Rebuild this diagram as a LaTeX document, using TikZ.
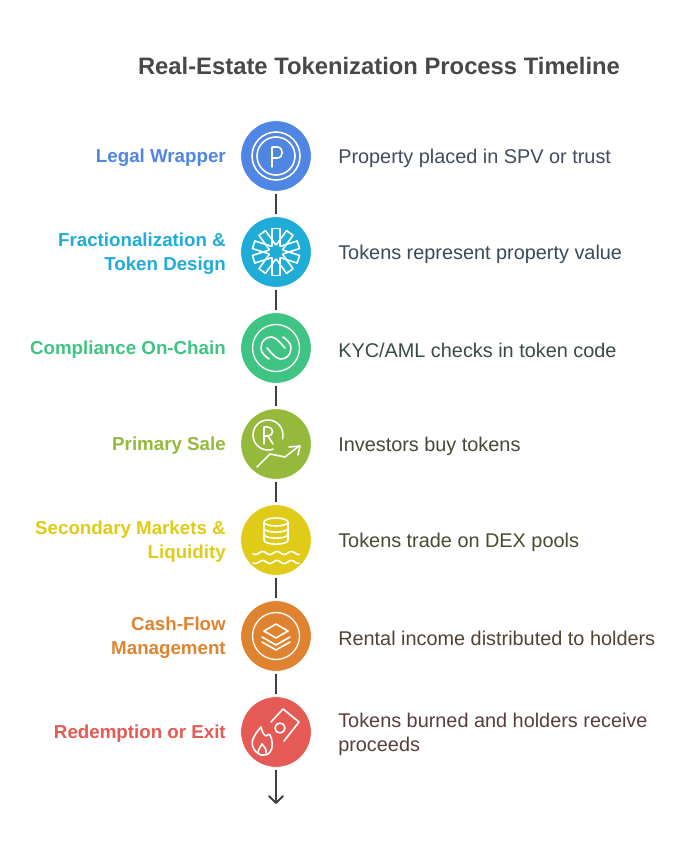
\documentclass[tikz,border=0pt]{standalone}
\usepackage{fontspec}
\setmainfont{Liberation Sans}
\definecolor{cA}{HTML}{4F86E3}\definecolor{cB}{HTML}{1FADD8}\definecolor{cC}{HTML}{3FC483}
\definecolor{cD}{HTML}{95B93A}\definecolor{cE}{HTML}{DFCB18}\definecolor{cF}{HTML}{E08330}\definecolor{cG}{HTML}{E55A55}
\definecolor{tA}{HTML}{434C5C}\definecolor{tB}{HTML}{3A4B55}\definecolor{tC}{HTML}{3B4A47}
\definecolor{tD}{HTML}{444A3A}\definecolor{tE}{HTML}{4A4A32}\definecolor{tF}{HTML}{4F4436}\definecolor{tG}{HTML}{553F3E}
\definecolor{linec}{HTML}{3F3F3F}\definecolor{titlec}{HTML}{484848}
\tikzset{
  x=0.75pt,y=-0.75pt,
  disc/.style={circle,draw=white,line width=0.4pt,minimum size=52.8pt,inner sep=0pt,fill=#1},
  lab/.style={anchor=east,align=right,font=\fontsize{14.05pt}{18pt}\selectfont\bfseries,text=#1,inner sep=0pt},
  desc/.style={anchor=west,align=left,font=\fontsize{14.9pt}{18pt}\selectfont,text=#1,inner sep=0pt},
  link/.style={draw=linec,line width=1.5pt,shorten >=2pt,shorten <=2pt},
  ico/.style={draw=white,line width=1.2pt,line cap=round,line join=round},
  icothin/.style={draw=white,line width=1pt,line cap=round,line join=round}
}
\begin{document}
\begin{tikzpicture}
\fill[white] (0,0) rectangle (696,852);
\useasboundingbox (0,0) rectangle (696,852);
\node[anchor=center,inner sep=0pt,font=\fontsize{17.85pt}{22pt}\selectfont\bfseries,text=titlec] (title) at (379,66) {Real-Estate Tokenization Process Timeline};

\node[disc=cA] (n1) at (276,156) {};
\node[disc=cB] (n2) at (276,252) {};
\node[disc=cC] (n3) at (276,348) {};
\node[disc=cD] (n4) at (276,444) {};
\node[disc=cE] (n5) at (276,540) {};
\node[disc=cF] (n6) at (276,636) {};
\node[disc=cG] (n7) at (276,732) {};
\coordinate (end) at (276,803);

\foreach \a/\b in {n1/n2,n2/n3,n3/n4,n4/n5,n5/n6,n6/n7} \draw[link] (\a) -- (\b);
\draw[draw=linec,line width=1.5pt,shorten <=2pt] (n7) -- (end);
\draw[draw=linec,line width=1.5pt,line cap=round,line join=round] (269,796) -- (end) -- (283,796);

\node[lab=cA] (l1) at (226,158) {Legal Wrapper};
\node[lab=cB] (l2) at (226,254) {Fractionalization \&\\Token Design};
\node[lab=cC] (l3) at (226,350) {Compliance On-Chain};
\node[lab=cD] (l4) at (226,446) {Primary Sale};
\node[lab=cE] (l5) at (226,542) {Secondary Markets \&\\Liquidity};
\node[lab=cF] (l6) at (226,638) {Cash-Flow\\Management};
\node[lab=cG] (l7) at (226,734) {Redemption or Exit};

\node[desc=tA] (d1) at (338,158) {Property placed in SPV or trust};
\node[desc=tB] (d2) at (338,254) {Tokens represent property value};
\node[desc=tC] (d3) at (338,350) {KYC/AML checks in token code};
\node[desc=tD] (d4) at (338,446) {Investors buy tokens};
\node[desc=tE] (d5) at (338,542) {Tokens trade on DEX pools};
\node[desc=tF] (d6) at (338,638) {Rental income distributed to holders};
\node[desc=tG] (d7) at (338,734) {Tokens burned and holders receive\\proceeds};

% icon 1
\begin{scope}[shift={(n1.center)}]
\draw[ico] (0,0) circle[radius=24];
\draw[ico] (0,0) circle[radius=19];
\draw[ico] (-4,11) -- (-4,-9) -- (1,-9) .. controls (8,-9) and (8,2) .. (1,2) -- (-4,2);
\end{scope}

% icon 2
\begin{scope}[shift={(n2.center)}]
\foreach \an in {90,54,18,-18,-54,-90,-126,-162,162,126}
  \draw[ico,rotate=\an] (6,-4) -- (23.5,-4) -- (23.5,4) -- (6,4);
\end{scope}

% icon 3
\begin{scope}[shift={(n3.center)}]
\draw[icothin] (0,0) circle[radius=23.5];
\draw[ico] (-7,11) .. controls (-11,8) and (-15,5) .. (-15,0) .. controls (-15,-7) and (-10,-11) .. (-5,-11) .. controls (-1,-11) and (2,-8) .. (9,0);
\draw[ico] (7,-11) .. controls (11,-8) and (15,-5) .. (15,0) .. controls (15,7) and (10,11) .. (5,11) .. controls (1,11) and (-2,8) .. (-9,0);
\end{scope}

% icon 4
\begin{scope}[shift={(n4.center)}]
\draw[ico] (-8,-9)+(70:15) arc[start angle=70,end angle=375,radius=15];
\draw[ico] (-12,0) -- (-12,-17) -- (-8,-17) .. controls (-2,-17) and (-2,-8) .. (-8,-8) -- (-12,-8) (-8,-8) -- (-3,0);
\draw[ico] (-19,23) -- (-6,10) -- (9,13) -- (23,2);
\draw[ico] (13,3) -- (24,2) -- (22,11);
\end{scope}

% icon 5
\begin{scope}[shift={(n5.center)}]
\draw[ico] (0,-18) ellipse[x radius=12,y radius=4];
\draw[ico] (-12,-18) -- (-12,0) .. controls (-12,5.5) and (12,5.5) .. (12,0) -- (12,-18);
\draw[ico] (-12,-12) .. controls (-12,-6.5) and (12,-6.5) .. (12,-12);
\draw[ico] (-12,-6) .. controls (-12,-0.5) and (12,-0.5) .. (12,-6);
\foreach \yy in {13,22}
  \draw[ico] plot[smooth,domain=-23:23,samples=40] (\x,{\yy-1.5*cos(25*(\x-1))});
\end{scope}

% icon 6
\begin{scope}[shift={(n6.center)}]
\draw[icothin] (0,0) circle[radius=23.5];
\draw[ico] (0,-12) -- (12,-5) -- (0,2) -- (-12,-5) -- cycle;
\draw[ico] (-14,1) -- (0,9) -- (14,1);
\draw[ico] (-14,6) -- (0,14) -- (14,6);
\end{scope}

% icon 7
\begin{scope}[shift={(n7.center)}]
\draw[ico] (-5,-10) -- (7,-23) -- (23,-10) -- (8,9);
\draw[ico] (4,-4) circle[radius=5];
\draw[ico] (-15,23) .. controls (-23,20) and (-26,11) .. (-22,5) .. controls (-20,0) and (-17,-2) .. (-15,-5) .. controls (-14,0) and (-12,3) .. (-10,4) .. controls (-8,3) and (-7,1) .. (-6,3) .. controls (-3,8) and (-3,17) .. (-6,20) .. controls (-8,23) and (-11,23) .. (-15,23);
\draw[ico] (-18,21) .. controls (-18,17) and (-15,15) .. (-14,12) .. controls (-12,15) and (-9,17) .. (-10,21);
\end{scope}
\end{tikzpicture}
\end{document}
